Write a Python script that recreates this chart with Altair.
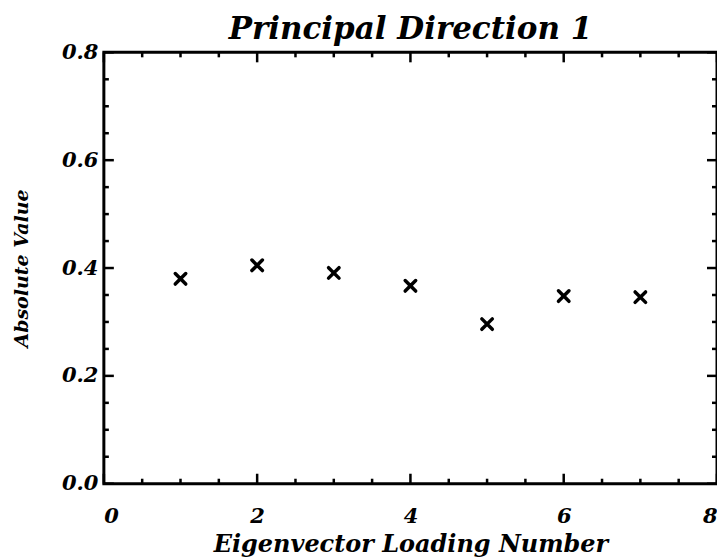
import altair as alt
import pandas as pd

# ---- data ----
loading_number = [1, 2, 3, 4, 5, 6, 7]
absolute_value = [0.380, 0.405, 0.391, 0.367, 0.296, 0.348, 0.346]

x_major = [0, 2, 4, 6, 8]
x_minor = [0.5, 1, 1.5, 2.5, 3, 3.5, 4.5, 5, 5.5, 6.5, 7, 7.5]
y_major = [0.0, 0.2, 0.4, 0.6, 0.8]
y_minor = [0.05, 0.1, 0.15, 0.25, 0.3, 0.35, 0.45, 0.5, 0.55, 0.65, 0.7, 0.75]

W, H = 614, 432
FONT = "DejaVu Serif"
MAJ, MIN = 10, 5

pts = pd.DataFrame({"n": loading_number, "v": absolute_value})

xs = alt.Scale(domain=[0, 8], nice=False, zero=False)
ys = alt.Scale(domain=[0, 0.8], nice=False, zero=False)

xaxis = alt.Axis(values=x_major, ticks=False, domain=False, grid=False,
                 labelFont=FONT, labelFontSize=21, labelFontStyle="italic",
                 labelFontWeight="bold", labelColor="black", labelPadding=22,
                 title="Eigenvector Loading Number", titleFont=FONT,
                 titleFontSize=24, titleFontStyle="italic", titleFontWeight="bold",
                 titleColor="black", titlePadding=6, format="d")
yaxis = alt.Axis(values=y_major, ticks=False, domain=False, grid=False,
                 labelFont=FONT, labelFontSize=21, labelFontStyle="italic",
                 labelFontWeight="bold", labelColor="black", labelPadding=6,
                 title="Absolute Value", titleFont=FONT,
                 titleFontSize=19, titleFontStyle="italic", titleFontWeight="bold",
                 titleColor="black", titlePadding=30, format=".1f")

points = alt.Chart(pts).mark_point(
    shape="M-1,-1L1,1M-1,1L1,-1", size=110, filled=False,
    stroke="black", strokeWidth=3.5, opacity=1, strokeCap="round"
).encode(
    x=alt.X("n:Q", scale=xs, axis=xaxis),
    y=alt.Y("v:Q", scale=ys, axis=yaxis),
)


def xticks(vals, length):
    d = pd.DataFrame({"t": vals})
    bottom = alt.Chart(d).mark_rule(color="black", strokeWidth=2.5).encode(
        x=alt.X("t:Q", scale=xs, axis=xaxis),
        y=alt.value(H), y2=alt.value(H - length))
    top = alt.Chart(d).mark_rule(color="black", strokeWidth=2.5).encode(
        x=alt.X("t:Q", scale=xs, axis=xaxis),
        y=alt.value(0), y2=alt.value(length))
    return [bottom, top]


def yticks(vals, length):
    d = pd.DataFrame({"t": vals})
    left = alt.Chart(d).mark_rule(color="black", strokeWidth=2.5).encode(
        y=alt.Y("t:Q", scale=ys, axis=yaxis),
        x=alt.value(0), x2=alt.value(length))
    right = alt.Chart(d).mark_rule(color="black", strokeWidth=2.5).encode(
        y=alt.Y("t:Q", scale=ys, axis=yaxis),
        x=alt.value(W - length), x2=alt.value(W))
    return [left, right]


layers = [points] + xticks(x_major, MAJ) + xticks(x_minor, MIN) \
    + yticks(y_major, MAJ) + yticks(y_minor, MIN)

chart = alt.layer(*layers).properties(
    width=W, height=H,
    background="white",
    title=alt.TitleParams("Principal Direction 1", font=FONT, fontSize=31,
                          fontStyle="italic", fontWeight="bold", color="black",
                          offset=7, dy=12, anchor="middle", frame="group"),
    padding={"left": 96, "top": 44, "right": 0, "bottom": 80},
    autosize=alt.AutoSizeParams(type="none"),
).configure_view(stroke="black", strokeWidth=3)

chart.save("out.html", embed_options={"renderer": "svg", "actions": False})
